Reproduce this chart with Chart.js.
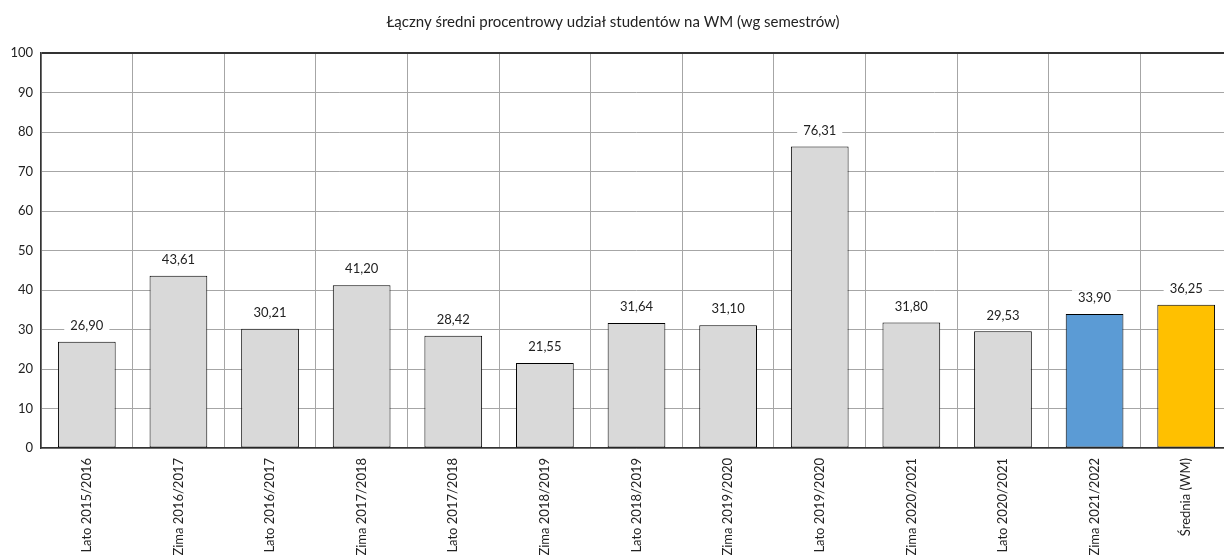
<!DOCTYPE html>
<html>
<head>
<meta charset="utf-8">
<script src="https://cdn.jsdelivr.net/npm/chart.js@4"></script>
<style>
  html, body { margin: 0; padding: 0; background: #fff; overflow: hidden; }
  #wrap { width: 1240px; height: 555px; }
</style>
</head>
<body>
<div id="wrap"><canvas id="chart" width="1240" height="555"></canvas></div>
<script>
const chartTitle = 'Łączny średni procentrowy udział studentów na WM (wg semestrów)';

const semesters = [
    'Lato 2015/2016', 'Zima 2016/2017', 'Lato 2016/2017', 'Zima 2017/2018',
    'Lato 2017/2018', 'Zima 2018/2019', 'Lato 2018/2019', 'Zima 2019/2020',
    'Lato 2019/2020', 'Zima 2020/2021', 'Lato 2020/2021', 'Zima 2021/2022',
    'Średnia (WM)'
];
const shares = [26.90, 43.61, 30.21, 41.20, 28.42, 21.55, 31.64, 31.10, 76.31, 31.80, 29.53, 33.90, 36.25];
const yTicks = [0, 10, 20, 30, 40, 50, 60, 70, 80, 90, 100];

const FONT = 'Lato, "Open Sans", sans-serif';

// last two bars are highlighted
const barColors = semesters.map((s, i) => {
    if (i === semesters.length - 1) return '#ffc000';
    if (i === semesters.length - 2) return '#5b9bd5';
    return '#d9d9d9';
});

const fmt = v => v.toFixed(2).replace('.', ',');

// value labels above the bars, on a white box that hides the grid
const valueLabels = {
    id: 'valueLabels',
    afterDatasetsDraw(chart) {
        const ctx = chart.ctx;
        const meta = chart.getDatasetMeta(0);
        ctx.save();
        ctx.font = '13px ' + FONT;
        ctx.textAlign = 'center';
        ctx.textBaseline = 'middle';
        meta.data.forEach((bar, i) => {
            const txt = fmt(shares[i]);
            const w = ctx.measureText(txt).width + 12;
            const y = bar.y - 16;
            ctx.fillStyle = '#fff';
            ctx.fillRect(bar.x - w / 2, y - 8, w, 16);
            ctx.fillStyle = '#222';
            ctx.fillText(txt, bar.x, y);
        });
        ctx.restore();
    }
};

const topTitle = {
    id: 'topTitle',
    afterDraw(chart) {
        const ctx = chart.ctx;
        ctx.save();
        ctx.font = '15px ' + FONT;
        ctx.fillStyle = '#222';
        ctx.textAlign = 'center';
        ctx.textBaseline = 'middle';
        ctx.fillText(chartTitle, 613, 22);
        ctx.restore();
    }
};

new Chart(document.getElementById('chart'), {
    type: 'bar',
    data: {
        labels: semesters,
        datasets: [{
            data: shares,
            backgroundColor: barColors,
            borderColor: '#000',
            borderWidth: 1,
            borderSkipped: false,
            barPercentage: 0.63,
            categoryPercentage: 1
        }]
    },
    options: {
        responsive: false,
        animation: false,
        layout: { padding: { top: 53, right: 8, left: 0, bottom: 0 } },
        plugins: {
            legend: { display: false },
            tooltip: { enabled: false }
        },
        scales: {
            x: {
                offset: true,
                grid: { offset: true, color: '#a6a6a6', lineWidth: 1, drawTicks: false },
                border: { color: '#333', width: 1.5 },
                ticks: {
                    color: '#222',
                    font: { family: FONT, size: 13 },
                    minRotation: 90,
                    maxRotation: 90,
                    autoSkip: false,
                    padding: 10
                },
                afterFit(scale) { scale.height = 107; }
            },
            y: {
                min: 0,
                max: 100,
                afterBuildTicks(scale) { scale.ticks = yTicks.map(v => ({ value: v })); },
                grid: {
                    drawTicks: false,
                    color: c => (c.tick && c.tick.value === 100) ? '#333' : '#a6a6a6',
                    lineWidth: c => (c.tick && c.tick.value === 100) ? 2 : 1
                },
                border: { color: '#333', width: 1.5 },
                ticks: {
                    color: '#222',
                    font: { family: FONT, size: 13 },
                    padding: 8
                },
                afterFit(scale) { scale.width = 41; }
            }
        }
    },
    plugins: [valueLabels, topTitle]
});
</script>
</body>
</html>
